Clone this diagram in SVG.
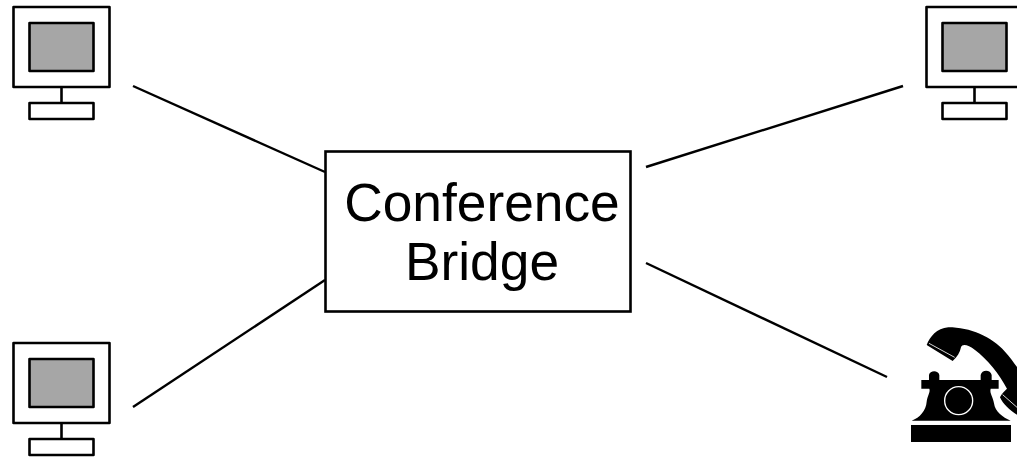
<svg xmlns="http://www.w3.org/2000/svg" width="1017" height="458" viewBox="0 0 1017 458">
<style>
.o{fill:none;stroke:#000;stroke-width:2.6;stroke-linejoin:round}
.s{fill:#a6a6a6;stroke:#000;stroke-width:2.6;stroke-linejoin:round}
.c{stroke:#000;stroke-width:2.4;fill:none}
.t{font-family:"Liberation Sans",Arial,sans-serif;font-size:53.3px;text-anchor:middle;fill:#000}
</style>
<defs>
<g id="pc">
<rect class="o" x="13.5" y="7" width="96" height="80"/>
<rect class="s" x="29.5" y="23" width="64" height="48"/>
<path class="o" d="M61.5 87V103"/>
<rect class="o" x="29.5" y="103" width="64" height="16"/>
</g>
</defs>
<rect width="1017" height="458" fill="#fff"/>
<g id="connectors">
<path class="c" d="M133 86L325 172"/>
<path class="c" d="M133 407L325 280"/>
<path class="c" d="M646 167L903 86"/>
<path class="c" d="M646 263L887 377"/>
</g>
<g id="pc-top-left"><use href="#pc"/></g>
<g id="pc-bottom-left"><use href="#pc" y="336"/></g>
<g id="pc-top-right"><use href="#pc" x="913"/></g>
<g id="bridge">
<rect x="325.500" y="151.500" width="305" height="160" fill="#fff" stroke="#000" stroke-width="2.6"/>
<text class="t" x="482" y="220.500">Conference</text>
<text class="t" x="482" y="280">Bridge</text>
</g>
<g id="phone" transform="translate(880 310) scale(.3333)">
<rect x="93" y="345" width="300" height="51"/>
<path d="M95 332C120 322 138 302 140 275C142 258 152 245 148 236H124V210H147V195C150 180 175 180 178 195V210H302V195C305 178 332 178 335 195V210H356V236H332C328 250 340 262 342 280C345 305 368 322 392 332Z"/>
<circle cx="236" cy="272" r="42" fill="none" stroke="#fff" stroke-width="4"/>
<path d="M140 105C150 80 170 55 205 52C270 52 335 80 375 125C395 148 411 170 420 185V320C395 305 370 285 360 262C365 250 378 240 381 236C360 195 320 145 285 120C265 105 247 100 243 112C240 128 232 140 218 153Z"/>
<path d="M147 100L224 142M368 254L420 300" stroke="#fff" stroke-width="2.500" fill="none"/>
</g>
</svg>
